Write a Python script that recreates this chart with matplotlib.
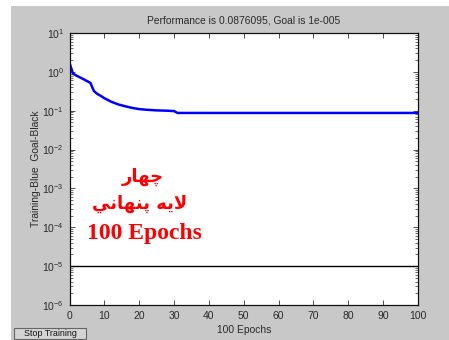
import matplotlib
matplotlib.use("Agg")
import matplotlib.pyplot as plt
from matplotlib.patches import Rectangle
from matplotlib.ticker import LogLocator, NullFormatter, FixedLocator

plt.rcParams["mathtext.fontset"] = "custom"
plt.rcParams["mathtext.rm"] = "Liberation Sans"
plt.rcParams["mathtext.it"] = "Liberation Sans:italic"
plt.rcParams["mathtext.bf"] = "Liberation Sans:bold"

# ---- data ----
epochs = [0, 1, 2, 3, 4, 5, 6, 7, 8, 9, 10, 12, 14, 16, 18, 20, 22, 25, 28, 30, 31, 100]
perf = [1.7, 0.9, 0.8, 0.72, 0.65, 0.58, 0.52, 0.32, 0.27, 0.24, 0.21, 0.17, 0.145,
        0.13, 0.118, 0.11, 0.106, 0.102, 0.1, 0.098, 0.0876, 0.0876]
goal = 1e-5
x_ticks = [0, 10, 20, 30, 40, 50, 60, 70, 80, 90, 100]
y_exps = [-6, -5, -4, -3, -2, -1, 0, 1]
title = "Performance is 0.0876095, Goal is 1e-005"
xlabel = "100 Epochs"
ylabel = "Training-Blue  Goal-Black"
# Arabic text in visual (shaped, right-to-left reversed) order
ann_line1 = "\uFEAD\uFE8E\uFEEC\uFB7C"                       # چهار
ann_line2 = "\uFEF2\uFEE7\uFE8E\uFEEC\uFEE8\uFB58 \uFEEA\uFEF3\uFEFB"  # لايه پنهاني
ann_line3 = "100 Epochs"

W, H = 449, 340
fig = plt.figure(figsize=(W / 100, H / 100), dpi=100)
fig.patch.set_facecolor("white")

def fx(px):
    return px / W

def fy(py):
    return 1 - py / H

grey = "#c8c8c8"
txt = "#2a2a2a"
fig.patches.append(Rectangle((fx(11), 0), 1 - fx(11), fy(6), transform=fig.transFigure,
                             facecolor=grey, edgecolor="none", zorder=-10))

ax_l, ax_r, ax_t, ax_b = 69.5, 418, 33, 305
ax = fig.add_axes([fx(ax_l), fy(ax_b), fx(ax_r - ax_l), (ax_b - ax_t) / H])
ax.set_zorder(2)
ax.set_facecolor("white")

ax.plot(epochs, perf, color="#0000ff", lw=1.8, solid_joinstyle="round")
ax.axhline(goal, color="black", lw=1.0)

ax.set_yscale("log")
ax.set_xlim(0, 100)
ax.set_ylim(1e-6, 1e1)
ax.xaxis.set_major_locator(FixedLocator(x_ticks))
ax.set_xticklabels([str(t) for t in x_ticks])
ax.yaxis.set_major_locator(FixedLocator([10.0 ** e for e in y_exps]))
ax.set_yticklabels([r"$10^{%d}$" % e for e in y_exps])
ax.yaxis.set_minor_locator(LogLocator(base=10, subs=range(2, 10), numticks=20))
ax.yaxis.set_minor_formatter(NullFormatter())

for lab in ax.get_xticklabels() + ax.get_yticklabels():
    lab.set_fontfamily("Liberation Sans")
    lab.set_fontsize(7.5)
    lab.set_color(txt)

ax.tick_params(axis="both", which="both", direction="in", top=True, right=True,
               color="#333333")
ax.tick_params(axis="x", which="major", length=3.5, width=0.6, pad=4.5)
ax.tick_params(axis="y", which="major", length=3.5, width=0.6, pad=4)
ax.tick_params(axis="y", which="minor", length=2, width=0.5)
for s in ax.spines.values():
    s.set_linewidth(0.9)
    s.set_color("#111111")

ax.set_title(title, fontfamily="Liberation Sans", fontsize=7.4, pad=7, color=txt)
ax.set_xlabel(xlabel, fontfamily="Liberation Sans", fontsize=7.4, labelpad=2.5, color=txt)
fig.text(fx(36), fy(169), ylabel, rotation=90, ha="center", va="center",
         fontfamily="Liberation Sans", fontsize=7.4, color=txt, zorder=3)

# red annotation
fig.text(fx(143), fy(177), ann_line1, ha="center", va="center", color="red",
         fontfamily="DejaVu Sans", fontweight="bold", fontsize=13, zorder=5)
fig.text(fx(140), fy(204), ann_line2, ha="center", va="center", color="red",
         fontfamily="DejaVu Sans", fontweight="bold", fontsize=13, zorder=5)
fig.text(fx(144), fy(234), ann_line3, ha="center", va="center", color="red",
         fontfamily="Liberation Serif", fontweight="bold", fontsize=17, zorder=5)

# Stop Training button
fig.patches.append(Rectangle((fx(14), fy(339)), fx(72), 11 / H, transform=fig.transFigure,
                             facecolor="#d4d4d4", edgecolor="#666666", lw=0.8, zorder=1))
fig.text(fx(50), fy(333.5), "Stop Training", ha="center", va="center",
         fontfamily="Liberation Sans", fontsize=6.4, color="#111111", zorder=3)

fig.savefig("out.png", dpi=100, facecolor=fig.get_facecolor())
